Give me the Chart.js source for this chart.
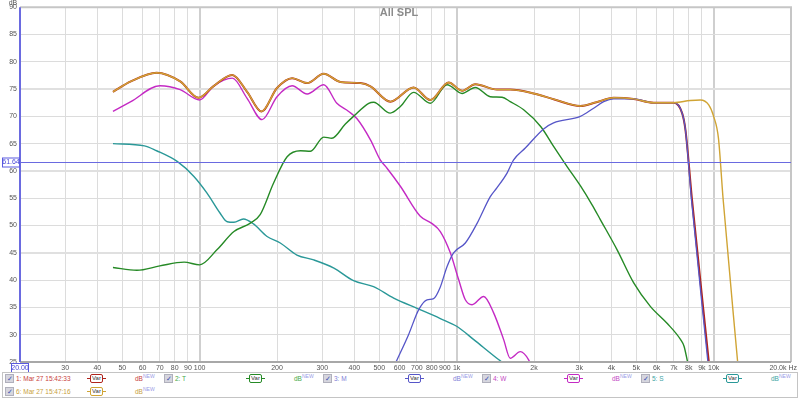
<!DOCTYPE html>
<html lang="en">
<head>
<meta charset="UTF-8">
<title>All SPL</title>
<script src="https://cdn.jsdelivr.net/npm/chart.js@4"></script>
<style>
  html, body { margin: 0; padding: 0; background: #fff; }
  #wrap { position: relative; width: 800px; height: 399px; overflow: hidden; font-family: "Liberation Sans", Arial, sans-serif; }
  #chart { position: absolute; left: 0; top: 0; }
  .legend { position: absolute; left: 2px; top: 372px; width: 794px; height: 24px; border: 1px solid #c4c4c4; background: #fff; }
  .item { position: absolute; width: 158px; height: 11px; font-size: 6.5px; line-height: 11px; white-space: nowrap; }
  .chk { position: absolute; left: 0; top: 1px; width: 7px; height: 7px; background: #d6d6de; border: 1px solid #b0b0bc; color: #3a4fb0; font-size: 7px; line-height: 7px; text-align: center; }
  .name { position: absolute; left: 11px; top: 0; }
  .smooth { position: absolute; left: 82px; top: 0; width: 19px; height: 11px; }
  .smooth .ln { position: absolute; left: 0; top: 5px; width: 19px; height: 1px; }
  .smooth .bx { position: absolute; left: 3px; top: 1px; width: 11px; height: 7px; border: 1px solid; border-radius: 2px; background: #fff; font-size: 6px; line-height: 7px; text-align: center; color: #333; overflow: hidden; }
  .db { position: absolute; left: 130px; top: 0; line-height: 11px; }
  .db sup { font-size: 5px; line-height: 0; color: #9a9ae6; vertical-align: 3px; }
</style>
</head>
<body>
<div id="wrap">
  <canvas id="chart" width="800" height="399"></canvas>
  <div class="legend" id="legend"></div>
</div>
<script>
// 1: Mar 27 15:42:33 (sum)
const sumFreq = [46, 54, 68, 84, 99, 113, 134, 153, 174, 200, 229, 262, 304, 353, 422, 462, 552, 680, 790, 931, 1050, 1182, 1435, 1616, 1993, 2400, 3029, 3500, 4083, 4887, 5841, 6990, 7540, 7770, 8240, 9580];
const sumDb   = [74.5, 76.4, 78.0, 76.4, 73.4, 75.5, 77.6, 74.5, 70.9, 75.2, 77.0, 76.1, 77.8, 76.3, 76.1, 75.5, 72.7, 75.3, 73.0, 76.2, 74.7, 75.9, 74.9, 74.9, 74.2, 73.1, 71.9, 72.6, 73.4, 73.2, 72.5, 72.5, 70.6, 67.5, 54.7, 25];

// 6: Mar 27 15:47:16
const sum6Freq = [46, 54, 68, 84, 99, 113, 134, 153, 174, 200, 229, 262, 304, 353, 422, 462, 552, 680, 790, 931, 1050, 1182, 1435, 1616, 1993, 2400, 3029, 3500, 4083, 4887, 5841, 6990, 8110, 8880, 9570, 10000, 10440, 10880, 12400];
const sum6Db   = [74.5, 76.4, 78.0, 76.4, 73.4, 75.5, 77.6, 74.5, 70.9, 75.2, 77.0, 76.1, 77.8, 76.3, 76.1, 75.5, 72.7, 75.3, 73.0, 76.2, 74.7, 75.9, 74.9, 74.9, 74.2, 73.1, 71.9, 72.6, 73.4, 73.2, 72.5, 72.5, 72.9, 73.0, 72.1, 70.0, 66.0, 55.0, 25];

// 2: T
const tFreq = [46, 57, 70, 87, 100, 117, 136, 157, 172, 194, 219, 247, 270, 304, 327, 369, 397, 455, 475, 552, 604, 680, 790, 918, 1050, 1182, 1352, 1502, 1616, 1823, 2127, 2384, 2690, 3029, 3365, 3623, 4207, 4887, 5670, 6587, 7440, 7670, 7920];
const tDb   = [42.3, 41.8, 42.6, 43.3, 42.8, 45.6, 48.9, 50.4, 52.0, 57.8, 62.6, 63.7, 63.6, 66.2, 66.0, 68.6, 70.0, 72.4, 72.6, 70.6, 71.8, 74.4, 72.4, 75.8, 74.2, 75.3, 73.6, 73.5, 72.7, 71.2, 68.1, 64.5, 60.8, 57.3, 53.8, 51.1, 45.6, 39.5, 35.2, 32.1, 29.1, 27.9, 25];

// 3: M
const mFreq = [581, 650, 712, 767, 814, 860, 918, 973, 1081, 1201, 1352, 1434, 1571, 1664, 1850, 2180, 2384, 3029, 3413, 3735, 4083, 4887, 5841, 6990, 7540, 7770, 8200, 9500];
const mDb   = [25, 30.0, 34.6, 36.4, 36.6, 38.5, 42.5, 45.0, 46.8, 50.4, 55.3, 56.9, 59.6, 62.0, 64.2, 67.7, 68.8, 70.0, 71.5, 72.7, 73.2, 73.2, 72.5, 72.5, 70.6, 67.5, 54.7, 25];

// 4: W
const wFreq = [46, 54, 70, 84, 100, 113, 134, 153, 175, 200, 229, 262, 304, 342, 380, 409, 462, 505, 536, 604, 722, 800, 864, 945, 1018, 1081, 1148, 1274, 1393, 1524, 1616, 1769, 1906, 1960];
const wDb   = [70.9, 72.7, 75.6, 74.9, 73.0, 75.5, 77.0, 73.3, 69.4, 73.6, 75.6, 74.1, 75.8, 72.4, 70.9, 69.6, 65.7, 62.0, 60.5, 57.2, 51.7, 50.4, 48.9, 45.0, 40.1, 36.4, 35.5, 37.0, 34.0, 29.1, 25.7, 26.9, 25.4, 24.0];

// 5: S
const sFreq = [46, 61, 68, 82, 95, 107, 120, 128, 136, 148, 162, 183, 206, 239, 278, 333, 397, 475, 569, 712, 860, 1004, 1166, 1460, 1500];
const sDb   = [65.0, 64.6, 63.7, 61.7, 59.0, 55.9, 52.3, 50.7, 50.6, 51.2, 50.3, 48.0, 46.8, 44.6, 43.7, 42.2, 39.9, 38.8, 36.7, 34.7, 33.0, 31.5, 29.1, 25.4, 25];

const freqTicks = [20, 30, 40, 50, 60, 70, 80, 90, 100, 200, 300, 400, 500, 600, 700, 800, 900, 1000, 2000, 3000, 4000, 5000, 6000, 7000, 8000, 9000, 10000, 20000];
const cursorDb = 61.64;
const cursorFreq = 20;

const legendNames  = ['1: Mar 27 15:42:33', '2: T', '3: M', '4: W', '5: S', '6: Mar 27 15:47:16'];
const lineColors   = ['#b0241c', '#268a26', '#5656c8', '#c42ac4', '#2a9898', '#d0a434'];
const legendColors = ['#c84040', '#48a848', '#8080d8', '#c448c4', '#40a4a4', '#c8a040'];

function pts(fs, ds) {
  return fs.map((f, i) => ({ x: f, y: ds[i] }));
}

function line(data, color, width, order) {
  return {
    data: data,
    borderColor: color,
    borderWidth: width,
    pointRadius: 0,
    fill: false,
    cubicInterpolationMode: 'monotone',
    order: order
  };
}

const overlay = {
  id: 'overlay',
  afterDatasetsDraw(chart) {
    const ctx = chart.ctx;
    const a = chart.chartArea;
    const xs = chart.scales.x, ys = chart.scales.y;
    ctx.save();

    // frame
    ctx.strokeStyle = '#c6c6c6';
    ctx.lineWidth = 2;
    ctx.beginPath();
    ctx.moveTo(a.left, a.top);
    ctx.lineTo(a.right, a.top);
    ctx.lineTo(a.right, a.bottom);
    ctx.stroke();
    ctx.strokeStyle = '#a8a8a8';
    ctx.beginPath();
    ctx.moveTo(a.left, a.bottom);
    ctx.lineTo(a.right, a.bottom);
    ctx.stroke();

    // cursor lines
    const cy = Math.round(ys.getPixelForValue(cursorDb)) + 0.5;
    ctx.strokeStyle = '#6a6ae0';
    ctx.lineWidth = 1;
    ctx.beginPath();
    ctx.moveTo(a.left, cy);
    ctx.lineTo(a.right, cy);
    ctx.stroke();
    const cx = xs.getPixelForValue(cursorFreq);
    ctx.lineWidth = 2;
    ctx.beginPath();
    ctx.moveTo(cx, a.top);
    ctx.lineTo(cx, a.bottom);
    ctx.stroke();

    // cursor readouts
    ctx.font = '7px "Liberation Sans", Arial, sans-serif';
    ctx.textAlign = 'center';
    ctx.textBaseline = 'middle';
    ctx.fillStyle = '#fff';
    ctx.fillRect(2, cy - 4, 17, 8);
    ctx.strokeStyle = '#5a5ae0';
    ctx.lineWidth = 1;
    ctx.strokeRect(2.5, cy - 4.5, 17, 9);
    ctx.fillStyle = '#4848d8';
    ctx.fillText(cursorDb.toFixed(2), 11, cy);
    ctx.fillStyle = '#fff';
    ctx.fillRect(cx - 8, a.bottom + 2, 16, 8);
    ctx.strokeRect(cx - 8.5, a.bottom + 1.5, 17, 9);
    ctx.fillStyle = '#4848d8';
    ctx.fillText(cursorFreq.toFixed(2), cx, a.bottom + 6);

    // axis titles
    ctx.fillStyle = '#555';
    ctx.font = '7px "Liberation Sans", Arial, sans-serif';
    ctx.fillText('dB', 13, 3);
    ctx.textAlign = 'right';
    ctx.fillText('20.0k Hz', 797, a.bottom + 6);

    // title
    ctx.textAlign = 'center';
    ctx.fillStyle = '#8c8c8c';
    ctx.font = 'bold 11px "Liberation Sans", Arial, sans-serif';
    ctx.fillText('All SPL', 399, 13);
    ctx.restore();
  }
};

new Chart(document.getElementById('chart'), {
  type: 'line',
  data: {
    datasets: [
      line(pts(sum6Freq, sum6Db), lineColors[5], 1.4, 0),
      line(pts(sumFreq, sumDb), lineColors[0], 2.0, 2),
      line(pts(mFreq, mDb), lineColors[2], 1.3, 1),
      line(pts(tFreq, tDb), lineColors[1], 1.4, 3),
      line(pts(wFreq, wDb), lineColors[3], 1.4, 4),
      line(pts(sFreq, sDb), lineColors[4], 1.4, 5)
    ]
  },
  options: {
    responsive: false,
    animation: false,
    events: [],
    layout: { padding: { top: 7, right: 9, bottom: 25, left: 0 } },
    plugins: { legend: { display: false }, tooltip: { enabled: false }, title: { display: false } },
    scales: {
      x: {
        type: 'logarithmic',
        min: 20,
        max: 20000,
        afterBuildTicks: s => { s.ticks = freqTicks.map(v => ({ value: v })); },
        afterFit: s => { s.height = 12; },
        border: { display: false },
        grid: {
          drawTicks: false,
          color: c => [100, 1000, 10000].includes(c.tick.value) ? '#cfcfcf' : '#dcdcdc',
          lineWidth: c => [100, 1000, 10000].includes(c.tick.value) ? 2 : 1
        },
        ticks: {
          autoSkip: false,
          maxRotation: 0,
          padding: 2,
          color: '#555',
          font: { family: 'Liberation Sans', size: 7 },
          callback: v => (v === 20 || v === 20000) ? '' : (v >= 1000 ? (v / 1000) + 'k' : String(v))
        }
      },
      y: {
        min: 25,
        max: 90,
        afterFit: s => { s.width = 20; },
        border: { display: false },
        grid: {
          drawTicks: false,
          color: c => [45, 60, 75].includes(c.tick.value) ? '#e0e0e0' : '#dcdcdc',
          lineWidth: c => [45, 60, 75].includes(c.tick.value) ? 2 : 1
        },
        ticks: {
          stepSize: 5,
          padding: 3,
          color: '#555',
          font: { family: 'Liberation Sans', size: 7 }
        }
      }
    }
  },
  plugins: [overlay]
});

// legend rows
const legendPos = [[5, 373], [164, 373], [323, 373], [482, 373], [641, 373], [5, 386]];
const legendEl = document.getElementById('legend');
legendNames.forEach((name, i) => {
  const it = document.createElement('div');
  it.className = 'item';
  it.style.left = (legendPos[i][0] - 3) + 'px';
  it.style.top = (legendPos[i][1] - 373) + 'px';
  it.innerHTML =
    '<span class="chk">&#10003;</span>' +
    '<span class="name" style="color:' + legendColors[i] + '">' + name + '</span>' +
    '<span class="smooth"><span class="ln" style="background:' + lineColors[i] + '"></span>' +
    '<span class="bx" style="border-color:' + lineColors[i] + '">Var</span></span>' +
    '<span class="db" style="color:' + legendColors[i] + '">dB<sup>NEW</sup></span>';
  legendEl.appendChild(it);
});
</script>
</body>
</html>
